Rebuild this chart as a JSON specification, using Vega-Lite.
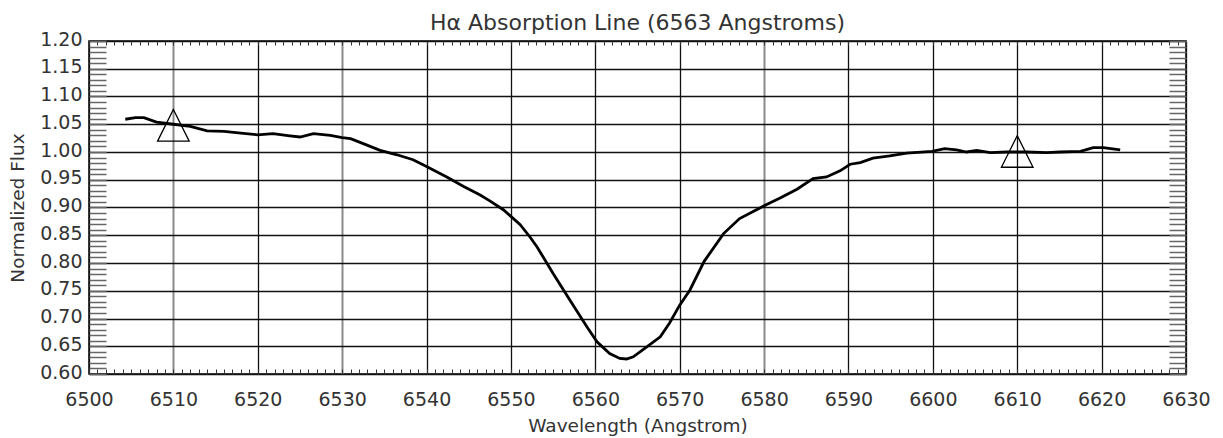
{
  "$schema": "https://vega.github.io/schema/vega-lite/v6.json",
  "width": 1097,
  "height": 333,
  "autosize": {"type": "none"},
  "padding": {"left": 89, "top": 41, "right": 37, "bottom": 64},
  "background": "#ffffff",
  "title": {"text": "Hα Absorption Line (6563 Angstroms)", "font": "DejaVu Sans", "fontSize": 22, "fontWeight": "normal", "color": "#333333", "anchor": "middle", "offset": -5},
  "datasets": {
    "spectrum": [
      {"w": 6504.3, "f": 1.059}, {"w": 6505.5, "f": 1.062}, {"w": 6506.5, "f": 1.062}, {"w": 6508.0, "f": 1.054},
      {"w": 6510.0, "f": 1.050}, {"w": 6512.0, "f": 1.046}, {"w": 6514.0, "f": 1.038}, {"w": 6516.0, "f": 1.037},
      {"w": 6518.0, "f": 1.034}, {"w": 6520.0, "f": 1.031}, {"w": 6521.8, "f": 1.033}, {"w": 6523.8, "f": 1.029},
      {"w": 6525.0, "f": 1.027}, {"w": 6526.6, "f": 1.033}, {"w": 6528.6, "f": 1.030}, {"w": 6530.0, "f": 1.026},
      {"w": 6531.0, "f": 1.024}, {"w": 6532.5, "f": 1.015}, {"w": 6534.5, "f": 1.003}, {"w": 6536.5, "f": 0.995},
      {"w": 6538.4, "f": 0.986}, {"w": 6540.0, "f": 0.974}, {"w": 6542.4, "f": 0.955}, {"w": 6544.4, "f": 0.938},
      {"w": 6546.3, "f": 0.923}, {"w": 6547.5, "f": 0.912}, {"w": 6549.1, "f": 0.896}, {"w": 6550.0, "f": 0.884},
      {"w": 6551.1, "f": 0.869}, {"w": 6552.3, "f": 0.846}, {"w": 6553.1, "f": 0.829}, {"w": 6555.0, "f": 0.781},
      {"w": 6557.0, "f": 0.733}, {"w": 6559.0, "f": 0.685}, {"w": 6560.2, "f": 0.658}, {"w": 6561.7, "f": 0.637},
      {"w": 6562.9, "f": 0.628}, {"w": 6563.7, "f": 0.627}, {"w": 6564.5, "f": 0.631}, {"w": 6566.1, "f": 0.649}, {"w": 6567.7, "f": 0.667},
      {"w": 6568.8, "f": 0.692}, {"w": 6570.0, "f": 0.724}, {"w": 6571.2, "f": 0.751}, {"w": 6572.9, "f": 0.803},
      {"w": 6575.2, "f": 0.853}, {"w": 6577.1, "f": 0.880}, {"w": 6580.0, "f": 0.903}, {"w": 6581.9, "f": 0.917},
      {"w": 6583.9, "f": 0.933}, {"w": 6585.8, "f": 0.952}, {"w": 6587.4, "f": 0.955}, {"w": 6589.0, "f": 0.966},
      {"w": 6590.2, "f": 0.978}, {"w": 6591.4, "f": 0.981}, {"w": 6592.9, "f": 0.989}, {"w": 6594.9, "f": 0.993},
      {"w": 6596.9, "f": 0.998}, {"w": 6599.9, "f": 1.001}, {"w": 6601.4, "f": 1.006}, {"w": 6602.8, "f": 1.004},
      {"w": 6604.0, "f": 1.000}, {"w": 6605.2, "f": 1.003}, {"w": 6606.8, "f": 0.999}, {"w": 6608.8, "f": 1.000},
      {"w": 6611.1, "f": 1.000}, {"w": 6613.5, "f": 0.999}, {"w": 6615.1, "f": 1.000}, {"w": 6617.5, "f": 1.001},
      {"w": 6619.0, "f": 1.008}, {"w": 6620.2, "f": 1.008}, {"w": 6622.2, "f": 1.004}
    ],
    "markers": [
      {"w": 6510, "f": 1.048},
      {"w": 6610, "f": 1.001}
    ]
  },
  "layer": [
    {
      "data": {"name": "spectrum"},
      "mark": {"type": "line", "color": "#000000", "strokeWidth": 2.8, "interpolate": "linear"},
      "encoding": {
        "x": {
          "field": "w", "type": "quantitative",
          "scale": {"domain": [6500, 6630], "nice": false, "zero": false},
          "axis": {
            "orient": "bottom",
            "title": "Wavelength (Angstrom)",
            "values": [6500,6501,6502,6503,6504,6505,6506,6507,6508,6509,6510,6511,6512,6513,6514,6515,6516,6517,6518,6519,6520,6521,6522,6523,6524,6525,6526,6527,6528,6529,6530,6531,6532,6533,6534,6535,6536,6537,6538,6539,6540,6541,6542,6543,6544,6545,6546,6547,6548,6549,6550,6551,6552,6553,6554,6555,6556,6557,6558,6559,6560,6561,6562,6563,6564,6565,6566,6567,6568,6569,6570,6571,6572,6573,6574,6575,6576,6577,6578,6579,6580,6581,6582,6583,6584,6585,6586,6587,6588,6589,6590,6591,6592,6593,6594,6595,6596,6597,6598,6599,6600,6601,6602,6603,6604,6605,6606,6607,6608,6609,6610,6611,6612,6613,6614,6615,6616,6617,6618,6619,6620,6621,6622,6623,6624,6625,6626,6627,6628,6629,6630],
            "format": "d",
            "labelExpr": "datum.value % 10 == 0 ? datum.label : ''",
            "labelOverlap": false,
            "labelFlush": false,
            "domain": false,
            "ticks": true,
            "tickSize": -5,
            "tickColor": "#333333",
            "tickWidth": 1,
            "grid": true,
            "gridColor": {"condition": {"test": "datum.value == 6510 || datum.value == 6530 || datum.value == 6580", "value": "#8a8a8a"}, "value": "#111111"},
            "gridWidth": {"condition": {"test": "datum.value == 6510 || datum.value == 6530 || datum.value == 6580", "value": 2}, "value": 1.3},
            "gridOpacity": {"condition": {"test": "datum.value % 10 == 0", "value": 1}, "value": 0},
            "labelFont": "DejaVu Sans",
            "labelFontSize": 19,
            "labelColor": "#333333",
            "labelPadding": 21,
            "titleFont": "DejaVu Sans",
            "titleFontSize": 18.5,
            "titleFontWeight": "normal",
            "titleColor": "#333333",
            "titlePadding": 7
          }
        },
        "y": {
          "field": "f", "type": "quantitative",
          "scale": {"domain": [0.6, 1.2], "nice": false, "zero": false},
          "axis": {
            "orient": "left",
            "title": "Normalized Flux",
            "values": [0.60,0.61,0.62,0.63,0.64,0.65,0.66,0.67,0.68,0.69,0.70,0.71,0.72,0.73,0.74,0.75,0.76,0.77,0.78,0.79,0.80,0.81,0.82,0.83,0.84,0.85,0.86,0.87,0.88,0.89,0.90,0.91,0.92,0.93,0.94,0.95,0.96,0.97,0.98,0.99,1.00,1.01,1.02,1.03,1.04,1.05,1.06,1.07,1.08,1.09,1.10,1.11,1.12,1.13,1.14,1.15,1.16,1.17,1.18,1.19,1.20],
            "format": ".2f",
            "labelExpr": "round(datum.value * 100) % 5 == 0 ? datum.label : ''",
            "labelOverlap": false,
            "labelFlush": false,
            "domain": false,
            "ticks": true,
            "tickSize": -17,
            "tickColor": "#666666",
            "tickWidth": 1.5,
            "grid": true,
            "gridColor": "#111111",
            "gridWidth": 1.3,
            "gridOpacity": {"condition": {"test": "round(datum.value * 100) % 5 == 0", "value": 1}, "value": 0},
            "labelFont": "DejaVu Sans",
            "labelFontSize": 19,
            "labelColor": "#333333",
            "labelPadding": 24,
            "labelOffset": -2,
            "titleFont": "DejaVu Sans",
            "titleFontSize": 18.5,
            "titleFontWeight": "normal",
            "titleColor": "#333333",
            "titlePadding": 12
          }
        }
      }
    },
    {
      "data": {"name": "markers"},
      "mark": {"type": "point", "shape": "M0,-1L1,1L-1,1Z", "size": 1000, "filled": false, "stroke": "#000000", "strokeWidth": 1.3, "opacity": 1},
      "encoding": {
        "x": {
          "field": "w", "type": "quantitative",
          "scale": {"domain": [6500, 6630], "nice": false, "zero": false},
          "axis": {
            "orient": "top",
            "title": null,
            "values": [6500,6501,6502,6503,6504,6505,6506,6507,6508,6509,6510,6511,6512,6513,6514,6515,6516,6517,6518,6519,6520,6521,6522,6523,6524,6525,6526,6527,6528,6529,6530,6531,6532,6533,6534,6535,6536,6537,6538,6539,6540,6541,6542,6543,6544,6545,6546,6547,6548,6549,6550,6551,6552,6553,6554,6555,6556,6557,6558,6559,6560,6561,6562,6563,6564,6565,6566,6567,6568,6569,6570,6571,6572,6573,6574,6575,6576,6577,6578,6579,6580,6581,6582,6583,6584,6585,6586,6587,6588,6589,6590,6591,6592,6593,6594,6595,6596,6597,6598,6599,6600,6601,6602,6603,6604,6605,6606,6607,6608,6609,6610,6611,6612,6613,6614,6615,6616,6617,6618,6619,6620,6621,6622,6623,6624,6625,6626,6627,6628,6629,6630],
            "labels": false,
            "grid": false,
            "domain": false,
            "ticks": true,
            "tickSize": -4,
            "tickColor": "#333333",
            "tickWidth": 1
          }
        },
        "y": {
          "field": "f", "type": "quantitative",
          "scale": {"domain": [0.6, 1.2], "nice": false, "zero": false},
          "axis": {
            "orient": "right",
            "title": null,
            "values": [0.60,0.61,0.62,0.63,0.64,0.65,0.66,0.67,0.68,0.69,0.70,0.71,0.72,0.73,0.74,0.75,0.76,0.77,0.78,0.79,0.80,0.81,0.82,0.83,0.84,0.85,0.86,0.87,0.88,0.89,0.90,0.91,0.92,0.93,0.94,0.95,0.96,0.97,0.98,0.99,1.00,1.01,1.02,1.03,1.04,1.05,1.06,1.07,1.08,1.09,1.10,1.11,1.12,1.13,1.14,1.15,1.16,1.17,1.18,1.19,1.20],
            "labels": false,
            "grid": false,
            "domain": false,
            "ticks": true,
            "tickSize": -17,
            "tickColor": "#666666",
            "tickWidth": 1.5
          }
        }
      }
    }
  ],
  "resolve": {"axis": {"x": "independent", "y": "independent"}},
  "config": {
    "view": {"stroke": "#000000", "strokeWidth": 1.5},
    "font": "DejaVu Sans"
  }
}
